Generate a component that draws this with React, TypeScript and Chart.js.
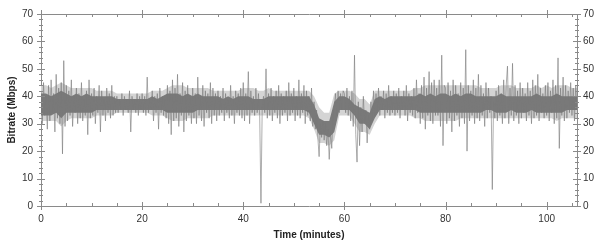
import React, { useEffect, useRef } from "react";
import { Chart, registerables } from "chart.js";

Chart.register(...registerables);

// ---- data ----
const RAW_STEP_MIN = 0.25; // sampling interval of the raw trace, minutes
const ENV_STEP_MIN = 1; // sampling interval of the envelopes, minutes

// raw bitrate samples, Mbps (every 0.25 min, 0..106 min)
const RAW_MBPS: number[] = [
  42, 30, 45, 33, 40, 28, 44, 31, 46, 34, 41, 27, 48, 32, 43, 30, 45, 19, 53, 29,
  44, 31, 42, 33, 46, 29, 40, 34, 43, 30, 41, 32, 45, 31, 39, 33, 42, 26, 46, 32,
  41, 33, 43, 30, 40, 34, 44, 27, 42, 33, 39, 31, 43, 34, 41, 32, 44, 33, 40, 34,
  40, 34, 39, 35, 41, 33, 40, 35, 39, 34, 42, 27, 40, 35, 39, 34, 41, 33, 40, 35,
  41, 34, 40, 33, 47, 34, 39, 35, 42, 31, 40, 34, 41, 28, 43, 34, 40, 33, 39, 32,
  44, 30, 42, 26, 46, 31, 43, 32, 48, 29, 41, 33, 45, 27, 42, 31, 44, 33, 40, 30,
  43, 32, 41, 30, 47, 33, 40, 31, 44, 29, 42, 34, 41, 32, 45, 30, 43, 33, 41, 31,
  42, 33, 40, 34, 43, 31, 41, 34, 39, 32, 44, 33, 40, 30, 42, 34, 41, 33, 43, 32,
  45, 31, 41, 33, 49, 30, 42, 34, 40, 33, 43, 34, 41, 33, 1, 36, 40, 34, 50, 32,
  41, 33, 43, 31, 40, 34, 42, 32, 44, 30, 41, 33, 40, 34, 42, 31, 45, 33, 41, 34,
  43, 31, 40, 33, 46, 32, 41, 34, 44, 30, 42, 33, 40, 31, 43, 29, 38, 28, 35, 25,
  18, 30, 25, 31, 24, 30, 22, 28, 17, 27, 21, 33, 36, 41, 33, 42, 34, 41, 35, 42,
  41, 34, 43, 33, 40, 31, 42, 29, 55, 26, 16, 38, 22, 36, 27, 40, 30, 35, 23, 33,
  28, 38, 31, 42, 33, 41, 34, 43, 33, 40, 35, 42, 32, 41, 34, 44, 33, 40, 34, 42,
  33, 41, 34, 43, 32, 40, 35, 42, 33, 44, 31, 41, 34, 40, 33, 43, 32, 46, 34, 41,
  30, 44, 32, 47, 28, 43, 33, 49, 31, 45, 30, 46, 33, 43, 33, 46, 29, 55, 22, 44,
  43, 30, 45, 32, 42, 27, 46, 31, 44, 33, 41, 29, 45, 32, 43, 30, 57, 20, 44, 31,
  42, 33, 46, 30, 43, 32, 48, 31, 44, 33, 41, 29, 45, 32, 43, 34, 40, 6, 38, 32,
  42, 31, 44, 33, 41, 30, 46, 32, 44, 51, 30, 43, 33, 52, 31, 44, 33, 42, 30, 45,
  32, 43, 34, 41, 31, 45, 33, 42, 30, 46, 32, 44, 33, 48, 31, 43, 34, 41, 32, 44,
  33, 45, 31, 42, 34, 46, 30, 44, 32, 54, 21, 43, 33, 47, 31, 44, 32, 42, 34, 45,
  33, 43, 31, 44, 35,
];

// upper edge of the light fringe, Mbps (every 1 min, 0..106 min)
const FRINGE_HIGH_MBPS: number[] = [
  44, 44, 43, 44, 45, 44, 43, 43, 43, 43,
  43, 42, 42, 42, 42, 41, 41, 41, 41, 41,
  41, 41, 42, 42, 42, 43, 44, 44, 44, 43,
  43, 43, 43, 43, 42, 42, 42, 42, 42, 42,
  43, 43, 43, 42, 42, 43, 42, 42, 42, 42,
  42, 42, 42, 42, 40, 36, 34, 34, 41, 42,
  42, 42, 41, 39, 39, 37, 42, 42, 42, 42,
  42, 42, 42, 42, 43, 43, 44, 44, 44, 44,
  44, 44, 44, 44, 44, 44, 44, 43, 43, 43,
  43, 44, 44, 44, 43, 43, 43, 43, 44, 43,
  44, 43, 44, 44, 44, 43, 43,
];

// lower edge of the light fringe, Mbps (every 1 min, 0..106 min)
const FRINGE_LOW_MBPS: number[] = [
  31, 31, 31, 31, 29, 31, 32, 32, 32, 32,
  32, 33, 33, 33, 33, 34, 34, 34, 34, 34,
  34, 34, 33, 33, 33, 32, 31, 31, 31, 32,
  32, 32, 32, 32, 33, 33, 33, 33, 33, 33,
  33, 33, 33, 33, 33, 33, 33, 33, 33, 33,
  33, 33, 33, 32, 28, 23, 23, 22, 24, 33,
  33, 33, 30, 27, 27, 26, 30, 33, 33, 33,
  33, 33, 33, 33, 32, 32, 31, 31, 31, 31,
  31, 31, 31, 32, 32, 32, 32, 32, 32, 32,
  32, 32, 32, 32, 32, 32, 32, 32, 32, 32,
  32, 32, 31, 32, 32, 32, 32,
];

// upper edge of the dense (dark) core, Mbps (every 1 min, 0..106 min)
const CORE_HIGH_MBPS: number[] = [
  41, 41, 40, 41, 42, 41, 40, 41, 40, 41,
  40, 40, 40, 40, 40, 39, 39, 39, 39, 39,
  39, 39, 40, 39, 40, 41, 41, 41, 40, 41,
  40, 41, 40, 40, 40, 40, 39, 40, 39, 40,
  40, 40, 39, 39, 39, 40, 40, 40, 40, 40,
  40, 40, 40, 40, 37, 32, 31, 31, 38, 40,
  40, 39, 37, 36, 35, 34, 39, 40, 39, 40,
  40, 40, 40, 40, 40, 41, 40, 41, 40, 41,
  41, 40, 41, 40, 41, 41, 40, 40, 40, 40,
  40, 41, 40, 40, 40, 40, 40, 40, 41, 40,
  40, 40, 41, 40, 40, 40, 40,
];

// lower edge of the dense (dark) core, Mbps (every 1 min, 0..106 min)
const CORE_LOW_MBPS: number[] = [
  33, 33, 33, 34, 32, 34, 34, 34, 34, 34,
  34, 35, 35, 35, 35, 35, 35, 35, 35, 35,
  35, 35, 35, 35, 35, 34, 34, 34, 34, 34,
  34, 35, 35, 35, 35, 35, 35, 35, 35, 35,
  35, 35, 35, 35, 35, 35, 35, 35, 35, 35,
  35, 35, 35, 34, 30, 26, 26, 25, 27, 35,
  35, 35, 33, 30, 30, 28, 32, 35, 35, 35,
  35, 35, 35, 35, 35, 34, 34, 34, 34, 34,
  34, 34, 34, 34, 34, 34, 34, 34, 35, 35,
  34, 34, 34, 35, 34, 34, 34, 35, 34, 34,
  34, 34, 34, 34, 35, 35, 35,
];

const X_MIN = 0;
const X_MAX = 106;
const Y_MIN = 0;
const Y_MAX = 70;
const X_MAJOR_TICKS = [0, 20, 40, 60, 80, 100];
const X_MINOR_STEP = 5;
const Y_MAJOR_TICKS = [0, 10, 20, 30, 40, 50, 60, 70];
const Y_MINOR_STEP = 2;

const X_TITLE = "Time (minutes)";
const Y_TITLE = "Bitrate (Mbps)";

const FONT = "'Liberation Sans', Arial, sans-serif";
const AXIS_COLOR = "#8a8a8a";
const LABEL_COLOR = "#333333";
const FRINGE_COLOR = "rgb(212,212,212)";
const CORE_COLOR = "rgb(122,122,122)";
const RAW_COLOR = "rgba(120,120,120,0.6)";

const tickMarks = {
  id: "tickMarks",
  afterDraw(chart: any) {
    const { ctx, chartArea, scales } = chart;
    const x = scales.x;
    const y = scales.y;
    ctx.save();
    ctx.strokeStyle = AXIS_COLOR;
    ctx.lineWidth = 1;
    ctx.beginPath();
    for (let v = X_MIN; v <= X_MAX; v += X_MINOR_STEP) {
      const px = Math.round(x.getPixelForValue(v)) + 0.5;
      const major = X_MAJOR_TICKS.includes(v);
      const out = major ? 4 : 0;
      const inn = major ? 4 : 3;
      ctx.moveTo(px, chartArea.bottom + out);
      ctx.lineTo(px, chartArea.bottom - inn);
      ctx.moveTo(px, chartArea.top - out);
      ctx.lineTo(px, chartArea.top + inn);
    }
    for (let v = Y_MIN; v <= Y_MAX; v += Y_MINOR_STEP) {
      const py = Math.round(y.getPixelForValue(v)) + 0.5;
      const major = Y_MAJOR_TICKS.includes(v);
      const out = major ? 4 : 2;
      const inn = major ? 4 : 2;
      ctx.moveTo(chartArea.left - out, py);
      ctx.lineTo(chartArea.left + inn, py);
      ctx.moveTo(chartArea.right + out, py);
      ctx.lineTo(chartArea.right - inn, py);
    }
    ctx.stroke();
    ctx.restore();
  },
};

function pts(values: number[], step: number) {
  return values.map((v, i) => ({ x: i * step, y: v }));
}

export default function App() {
  const ref = useRef<HTMLCanvasElement | null>(null);

  useEffect(() => {
    if (!ref.current) return;

    const tickFont = { family: FONT, size: 10 };
    const titleFont = { family: FONT, size: 10, weight: "bold" as const };
    const common = { pointRadius: 0, tension: 0 };

    const chart = new Chart(ref.current, {
      type: "line",
      data: {
        datasets: [
          {
            ...common,
            label: "fringe high",
            data: pts(FRINGE_HIGH_MBPS, ENV_STEP_MIN),
            borderColor: "rgba(0,0,0,0)",
            backgroundColor: FRINGE_COLOR,
            borderWidth: 0,
            fill: "+1",
            order: 3,
          },
          {
            ...common,
            label: "fringe low",
            data: pts(FRINGE_LOW_MBPS, ENV_STEP_MIN),
            borderColor: "rgba(0,0,0,0)",
            borderWidth: 0,
            fill: false,
            order: 3,
          },
          {
            ...common,
            label: "core high",
            data: pts(CORE_HIGH_MBPS, ENV_STEP_MIN),
            borderColor: "rgba(0,0,0,0)",
            backgroundColor: CORE_COLOR,
            borderWidth: 0,
            fill: "+1",
            order: 2,
          },
          {
            ...common,
            label: "core low",
            data: pts(CORE_LOW_MBPS, ENV_STEP_MIN),
            borderColor: "rgba(0,0,0,0)",
            borderWidth: 0,
            fill: false,
            order: 2,
          },
          {
            ...common,
            label: "raw",
            data: pts(RAW_MBPS, RAW_STEP_MIN),
            borderColor: RAW_COLOR,
            borderWidth: 1,
            fill: false,
            order: 1,
          },
        ],
      },
      options: {
        animation: false,
        responsive: false,
        devicePixelRatio: 1,
        parsing: false,
        normalized: true,
        layout: { padding: 0 },
        plugins: {
          legend: { display: false },
          tooltip: { enabled: false },
        },
        scales: {
          x: {
            type: "linear",
            position: "bottom",
            min: X_MIN,
            max: X_MAX,
            grid: { display: false, drawTicks: false },
            border: { display: true, color: AXIS_COLOR, width: 1 },
            afterBuildTicks: (s: any) => {
              s.ticks = X_MAJOR_TICKS.map((v) => ({ value: v }));
            },
            ticks: {
              color: LABEL_COLOR,
              font: tickFont,
              padding: 7,
              maxRotation: 0,
              autoSkip: false,
            },
            title: {
              display: true,
              text: X_TITLE,
              color: "#222",
              font: titleFont,
              padding: { top: 0, bottom: 1 },
            },
            afterFit: (s: any) => {
              s.height = 36;
            },
          },
          xTop: {
            type: "linear",
            position: "top",
            display: true,
            min: X_MIN,
            max: X_MAX,
            grid: { display: false, drawTicks: false },
            border: { display: true, color: AXIS_COLOR, width: 1 },
            ticks: { display: false },
            afterFit: (s: any) => {
              s.height = 7;
            },
          },
          y: {
            type: "linear",
            position: "left",
            min: Y_MIN,
            max: Y_MAX,
            grid: { display: false, drawTicks: false },
            border: { display: true, color: AXIS_COLOR, width: 1 },
            afterBuildTicks: (s: any) => {
              s.ticks = Y_MAJOR_TICKS.map((v) => ({ value: v }));
            },
            ticks: { color: LABEL_COLOR, font: tickFont, padding: 8 },
            title: {
              display: true,
              text: Y_TITLE,
              color: "#222",
              font: titleFont,
              padding: { top: 6, bottom: 0 },
            },
            afterFit: (s: any) => {
              s.width = 41;
            },
          },
          yRight: {
            type: "linear",
            position: "right",
            display: true,
            min: Y_MIN,
            max: Y_MAX,
            grid: { display: false, drawTicks: false },
            border: { display: true, color: AXIS_COLOR, width: 1 },
            afterBuildTicks: (s: any) => {
              s.ticks = Y_MAJOR_TICKS.map((v) => ({ value: v }));
            },
            ticks: { color: LABEL_COLOR, font: tickFont, padding: 6 },
            afterFit: (s: any) => {
              s.width = 23;
            },
          },
        },
      },
      plugins: [tickMarks],
    });
    return () => chart.destroy();
  }, []);

  return (
    <div style={{ position: "absolute", left: 0, top: 0, width: 600, height: 242, background: "#fff" }}>
      <canvas ref={ref} width={600} height={242} style={{ width: 600, height: 242, display: "block" }} />
    </div>
  );
}
